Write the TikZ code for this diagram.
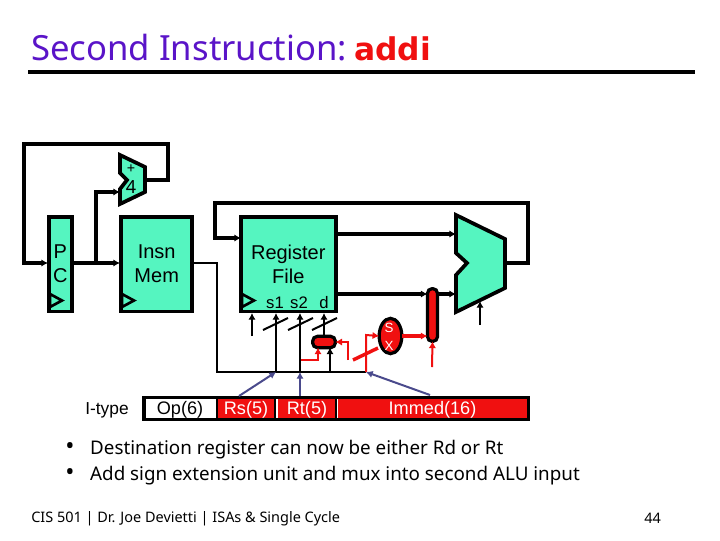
\documentclass[tikz,border=0pt]{standalone}
\usepackage{fontspec}
\setmainfont{Liberation Sans}
\newfontfamily\tahoma{Noto Sans}
\newfontfamily\titlebold{DejaVu Sans Bold}
\usetikzlibrary{arrows.meta,shapes.geometric}
\definecolor{teal1}{HTML}{55F5C0}
\definecolor{red1}{HTML}{F01010}
\definecolor{slate1}{HTML}{4A4A8C}
\definecolor{title1}{HTML}{5A14C8}

\begin{document}
\begin{tikzpicture}
    [x=0.75pt,y=-0.75pt,>={Latex[length=5pt,width=5.5pt]},
        block/.style={rectangle,draw=black,line width=2.8pt,fill=teal1,inner sep=0pt,outer sep=0pt,align=center,minimum height=71pt,font=\fontsize{15}{18}\selectfont},
        blob/.style={draw=black,line width=2.4pt,fill=red1,inner sep=0pt,outer sep=0pt},
        field/.style={rectangle,fill=red1,text=white,inner sep=0pt,outer sep=0pt,text height=11.25pt,text depth=3pt,font=\fontsize{13.6}{15}\selectfont},
        wire/.style={line width=2.8pt},
        thinwire/.style={line width=1.5pt},
        redwire/.style={line width=1.5pt,red1},
        fatred/.style={line width=2.6pt,red1},
        pointer/.style={line width=1.5pt,slate1},
        tick/.style={line width=1.5pt},
        clk/.style={line width=2pt},
        slide/.style={inner sep=0pt,anchor=west,font=\tahoma\fontsize{14.1}{18}\selectfont},
    ]
\useasboundingbox (0,0) rectangle (720,540);

% title
\node[anchor=base west,inner sep=0pt,text=title1,font=\tahoma\fontsize{26}{30}\selectfont] (title) at (31,60) {Second Instruction: \hspace{-3.5pt}{\titlebold\fontsize{23.5}{30}\selectfont\textcolor{red1}{addi}}};
\coordinate (ruleL) at (28,72);
\coordinate (ruleR) at (695,72);
\draw[line width=2.3pt] (ruleL) -- (ruleR);

% blocks
\node[block,minimum width=17pt] (pc) at (60.3,264.2) {P\\C};
\node[block,minimum width=53.2pt] (mem) at (156.7,264.2) {Insn\\Mem};
\node[block,minimum width=71pt] (rf) at (288.3,264.2) {Register\\File};

% adder and alu
\draw[wire,fill=teal1,line join=miter] (120,155) -- (145,167) -- (145,192) -- (120,204) -- (120,189) -- (127,180) -- (120,173) -- cycle;
\draw[wire,fill=teal1,line join=miter] (456,215) -- (505,239) -- (505,288) -- (456,312) -- (456,275) -- (467,263) -- (456,253) -- cycle;
\node[inner sep=0pt,font=\tahoma\fontsize{11}{12}\selectfont] (plus) at (131,169) {+};
\node[inner sep=0pt,font=\tahoma\fontsize{13.5}{14}\selectfont] (four) at (131,187.5) {4};

% clocks
\foreach \x in {50,122,242}{
    \draw[clk,fill=teal1] (\x,294) -- (\x+12,300.5) -- (\x,307) -- cycle;
}

% port names
\foreach \x/\t in {275/s1,299/s2,324/d}{
    \node[inner sep=0pt,font=\fontsize{12.5}{14}\selectfont] (port\t) at (\x,303) {\t};
}

% red parts
\node[blob,ellipse,minimum width=17pt,minimum height=26.5pt] (sx) at (390.5,336) {};
\node[inner sep=0pt,text=white,font=\fontsize{10}{12}\selectfont] (sxS) at (389,328) {S};
\node[inner sep=0pt,text=white,font=\fontsize{10}{12}\selectfont] (sxX) at (389,346) {X};
\node[blob,rounded corners=3.5pt,minimum width=7.5pt,minimum height=39.6pt] (mux) at (432.5,315) {};
\node[blob,rounded corners=3.5pt,minimum width=17pt,minimum height=8.5pt] (dmux) at (324,342) {};

% coordinates
\coordinate (addIn) at (120,192);
\coordinate (addOut) at (145,180);
\coordinate (pcIn) at (48,263);
\coordinate (pcOut) at (72,263);
\coordinate (memIn) at (120,263);
\coordinate (memOut) at (193,263);
\coordinate (aluOut) at (505,263);
\coordinate (aluTop) at (456,234);
\coordinate (aluBot) at (456,294);
\coordinate (rfIn) at (241,238);
\coordinate (rfA) at (337,234);
\coordinate (rfB) at (337,294);
\coordinate (bus) at (366,372);

% black wires
\draw[wire,->] (addOut) -- (168,180) -- (168,144) -- (24,144) -- (24,263) -- (pcIn);
\draw[wire,->] (pcOut) -- (memIn);
\draw[wire,->] (96,263) -- (96,192) -- (addIn);
\draw[wire,->] (aluOut) -- (528,263) -- (528,203) -- (215,203) -- (215,238) -- (rfIn);
\draw[wire,->] (rfA) -- (aluTop);
\draw[wire,->] (rfB) -- (mux.west |- rfB);
\draw[wire,->] (mux.east |- rfB) -- (aluBot);
\draw[line width=1.8pt] (memOut) -- (217,263) -- (217,372) -- (bus);
\draw[thinwire,->] (480,325) -- (480,301);
\draw[thinwire,->] (252,336) -- (252,313);
\draw[thinwire,->] (276,372) -- (276,313);
\draw[thinwire,->] (300,372) -- (300,313);
\draw[thinwire,->] (dmux.north) -- (324,313);
\draw[thinwire,->] (330,372) -- (330,347.5);

% slashes
\foreach \x in {263,288,312}{
    \draw[tick] (\x,330) -- (\x+25,318);
}

% red wires
\draw[redwire,->] (301,360) -- (318,360) -- (318,347.5);
\draw[redwire,->] (348,360) -- (348,342) -- (dmux.east);
\draw[redwire,->] (bus) -- (366,335) -- (sx.west);
\draw[fatred] (353,360) -- (378,348);
\draw[fatred,->] (sx.east) -- (mux.west |- sx.east);
\draw[redwire,->] (432,367) -- (mux.south);

% instruction
\node[anchor=base,inner sep=0pt,font=\fontsize{13}{15}\selectfont] (itype) at (107,414.5) {I-type};
\node[rectangle,draw=black,line width=2.3pt,fill=white,inner sep=0pt,outer sep=0pt,minimum width=288pt,minimum height=17pt] (bar) at (336,408.5) {};
\node[anchor=base,inner sep=0pt,font=\fontsize{13.6}{15}\selectfont] (op) at (180,414.5) {Op(6)};
\node[field,minimum width=43.5pt] (rs) at (246,408.5) {Rs(5)};
\node[field,minimum width=43.5pt] (rt) at (307,408.5) {Rt(5)};
\node[field,minimum width=141.5pt] (imm) at (432.5,408.5) {Immed(16)};
\draw[line width=2pt] (rs.west |- bar.north) -- (rs.west |- bar.south);
\draw[line width=2pt] (rs.east |- bar.north) -- (rs.east |- bar.south);
\draw[line width=2pt] (rt.east |- bar.north) -- (rt.east |- bar.south);

% pointers
\draw[pointer,->] (239,396) -- (276,372);
\draw[pointer,->] (300,396) -- (300,372);
\draw[pointer,->] (430,395) -- (bus);

% text
\node[slide] (b1) at (65,449.5) {\scalebox{1.3}{•}\hspace{11.8pt}Destination register can now be either Rd or Rt};
\node[slide] (b2) at (65,475.5) {\scalebox{1.3}{•}\hspace{11.8pt}Add sign extension unit and mux into second ALU input};
\node[slide,font=\tahoma\fontsize{10.85}{12}\selectfont] (foot) at (31,518.5) {CIS 501 | Dr. Joe Devietti | ISAs \& Single Cycle};
\node[slide,font=\tahoma\fontsize{10.85}{12}\selectfont] (page) at (644,518.5) {44};
\end{tikzpicture}
\end{document}
